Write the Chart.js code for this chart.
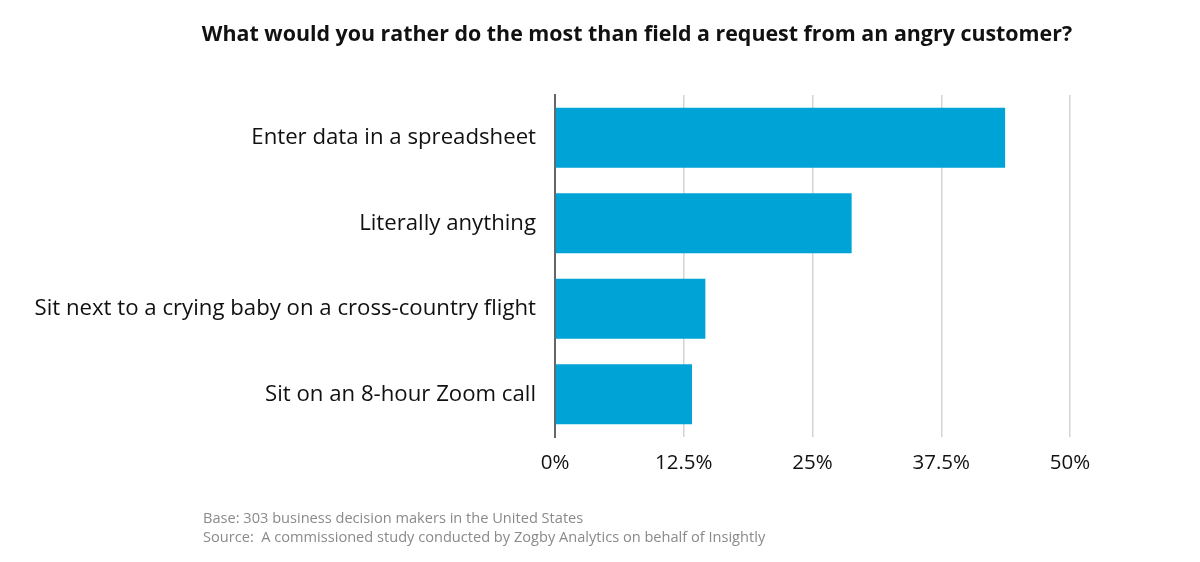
<!DOCTYPE html>
<html>
<head>
<meta charset="utf-8">
<script src="https://cdn.jsdelivr.net/npm/chart.js@4/dist/chart.umd.min.js"></script>
<style>
  html, body { margin: 0; padding: 0; background: #fff; }
  #wrap { width: 1200px; height: 562px; position: relative; }
</style>
</head>
<body>
<div id="wrap"><canvas id="chart"></canvas></div>
<script>
const titleText = "What would you rather do the most than field a request from an angry customer?";
const categories = [
  "Enter data in a spreadsheet",
  "Literally anything",
  "Sit next to a crying baby on a cross-country flight",
  "Sit on an 8-hour Zoom call"
];
const shares = [43.7, 28.8, 14.6, 13.3];
const xTicks = [0, 12.5, 25, 37.5, 50];
const footerLines = [
  "Base: 303 business decision makers in the United States",
  "Source:  A commissioned study conducted by Zogby Analytics on behalf of Insightly"
];

const FONT = "'Open Sans', Lato, sans-serif";

// title and footer text drawn straight on the canvas
const textPlugin = {
  id: 'texts',
  afterDraw(chart) {
    const ctx = chart.ctx;
    ctx.save();
    ctx.fillStyle = '#111';
    ctx.font = "bold 21.4px " + FONT;
    ctx.textAlign = 'center';
    ctx.textBaseline = 'middle';
    ctx.fillText(titleText, 637, 35);
    ctx.fillStyle = '#8a8a8a';
    ctx.font = "14.6px " + FONT;
    ctx.textAlign = 'left';
    footerLines.forEach((line, i) => ctx.fillText(line, 203, 519 + i * 19));
    ctx.restore();
  }
};

new Chart(document.getElementById('chart'), {
  type: 'bar',
  data: {
    labels: categories,
    datasets: [{
      data: shares,
      backgroundColor: '#00a3d6',
      borderWidth: 0,
      barPercentage: 0.7,
      categoryPercentage: 1.0
    }]
  },
  options: {
    indexAxis: 'y',
    responsive: true,
    maintainAspectRatio: false,
    animation: false,
    layout: { padding: { top: 95, right: 130, left: 0, bottom: 0 } },
    plugins: {
      legend: { display: false },
      tooltip: { enabled: false }
    },
    scales: {
      x: {
        min: 0,
        max: 50,
        afterFit(scale) { scale.height = 125; },
        afterBuildTicks(scale) { scale.ticks = xTicks.map(v => ({ value: v })); },
        grid: { color: '#d4d4d4', lineWidth: 1.5, drawTicks: false },
        border: { display: false },
        ticks: {
          padding: 14,
          color: '#111',
          font: { family: FONT, size: 20.5 },
          callback: v => v + '%'
        }
      },
      y: {
        afterFit(scale) { scale.width = 555; },
        grid: { display: false },
        border: { display: true, color: '#666', width: 2 },
        ticks: {
          padding: 11,
          color: '#111',
          font: { family: FONT, size: 22.2 }
        }
      }
    }
  },
  plugins: [textPlugin]
});
</script>
</body>
</html>
